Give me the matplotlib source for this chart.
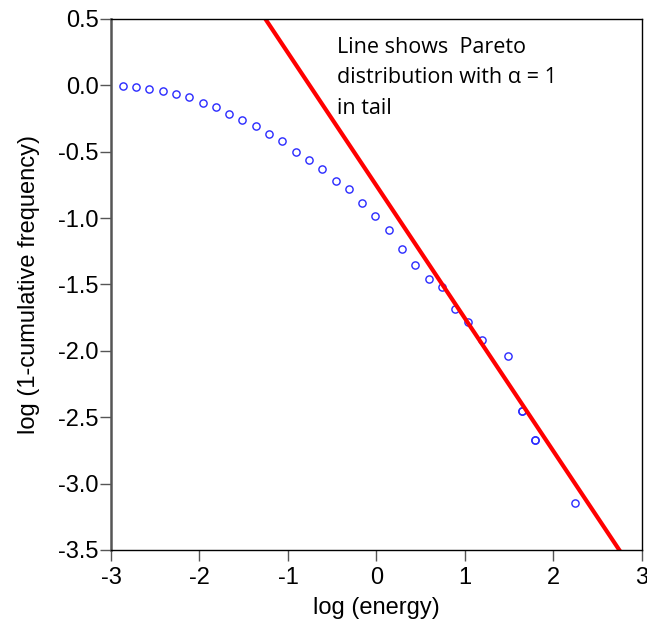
import numpy as np
import matplotlib.pyplot as plt

# log(energy) vs log(1 - cumulative frequency)
log_energy = [-2.865, -2.717, -2.566, -2.415, -2.264, -2.113, -1.962, -1.819,
              -1.663, -1.516, -1.365, -1.213, -1.066, -0.912, -0.764, -0.612,
              -0.461, -0.311, -0.161, -0.014, 0.139, 0.290, 0.438, 0.590,
              0.737, 0.888, 1.039, 1.194, 1.492, 1.640, 1.640, 1.792, 1.792,
              2.245]
log_surv = [-0.005, -0.013, -0.025, -0.045, -0.066, -0.090, -0.130, -0.166,
            -0.216, -0.258, -0.309, -0.369, -0.420, -0.500, -0.560, -0.633,
            -0.718, -0.784, -0.887, -0.985, -1.093, -1.232, -1.351, -1.460,
            -1.522, -1.688, -1.786, -1.919, -2.035, -2.451, -2.451, -2.670,
            -2.670, -3.148]

# Pareto tail line, alpha = 1 -> slope -1
alpha = 1.0
intercept = -0.755
line_x = [-1.4, 2.9]

x_ticks = [-3, -2, -1, 0, 1, 2, 3]
y_ticks = [0.5, 0.0, -0.5, -1.0, -1.5, -2.0, -2.5, -3.0, -3.5]

plt.rcParams['font.family'] = ['Liberation Sans', 'DejaVu Sans']

fig = plt.figure(figsize=(6.47, 6.31), dpi=100)
ax = fig.add_axes([0.1716, 0.1284, 0.8204, 0.8415])

ax.plot(log_energy, log_surv, 'o', mfc='none', mec='#2a2aff', ms=5.2, mew=1.0)
lx = np.array(line_x)
ax.plot(lx, -alpha * lx + intercept, color='#ff0000', lw=3.0, solid_capstyle='butt')

ax.set_xlim(-3.0, 3.0)
ax.set_ylim(-3.5, 0.5)
ax.set_xticks(x_ticks)
ax.set_xticklabels([str(t) for t in x_ticks])
ax.set_yticks(y_ticks)
ax.set_yticklabels(['%.1f' % t for t in y_ticks])
ax.tick_params(labelsize=17, length=8, width=1, color='#555555', pad=1)
ax.tick_params(axis='x', pad=4)

for s in ax.spines.values():
    s.set_linewidth(1.0)
ax.spines['left'].set_color('#555555')
ax.spines['left'].set_linewidth(1.8)

ax.set_xlabel('log (energy)', fontsize=17, labelpad=6)
ax.set_ylabel('log (1-cumulative frequency)', fontsize=17, labelpad=13)

ax.text(0.425, 0.966, 'Line shows  Pareto\ndistribution with \u03b1 = 1\nin tail',
        transform=ax.transAxes, ha='left', va='top', fontsize=15.5,
        family=['Open Sans', 'DejaVu Sans'], linespacing=1.58)

fig.savefig('out.png', dpi=100)
